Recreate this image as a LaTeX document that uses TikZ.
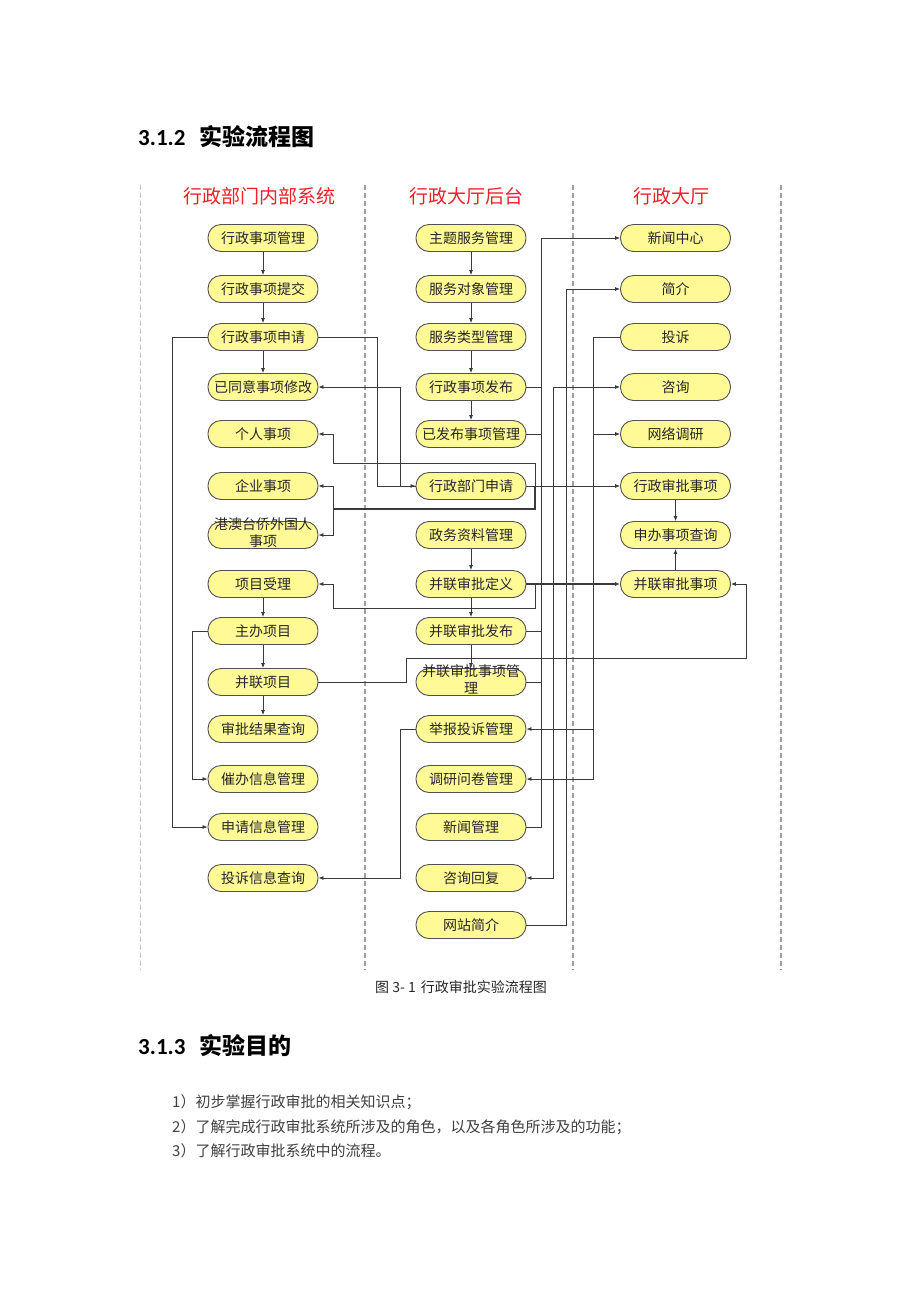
\documentclass[tikz,border=0pt]{standalone}
\usepackage{fontspec}
\setmainfont{Carlito}
\newfontfamily\cjk{Noto Sans CJK SC}
\usetikzlibrary{arrows.meta}
\definecolor{boxfill}{HTML}{FFFA96}
\definecolor{boxline}{HTML}{505050}
\definecolor{lin}{HTML}{3A3A3A}
\definecolor{lanered}{HTML}{F0202A}
\tikzset{
  box/.style={draw=boxline, fill=boxfill, line width=0.9pt, rounded corners=13pt,
    minimum width=110pt, minimum height=27pt, inner sep=0pt,
    font=\cjk\fontsize{14}{15}\selectfont, text=black!85},
  conn/.style={draw=lin, line width=0.8pt, -{Latex[length=5pt,width=4pt]}},
  conn2/.style={draw=lin, line width=0.8pt, {Latex[length=5pt,width=4pt]}-{Latex[length=5pt,width=4pt]}},
  ln/.style={draw=lin, line width=0.8pt},
  lanedash/.style={draw=gray!75, line width=1.2pt, dash pattern=on 5pt off 3pt},
  lanetitle/.style={font=\cjk\fontsize{19}{19}\selectfont, text=lanered},
}
\newcommand{\twoline}[2]{\raisebox{-6pt}{\smash{\begin{tabular}[c]{@{}c@{}}#1\\[1pt]#2\end{tabular}}}}
\begin{document}
\begin{tikzpicture}[x=1pt,y=-1pt]
\useasboundingbox (0,0) rectangle (920,1302);
\fill[white] (0,0) rectangle (920,1302);

% headings
\node[anchor=base west, inner sep=0pt] (h1) at (138,145) {\fontsize{23}{23}\selectfont\bfseries 3.1.2\hspace{14pt}{\cjk 实验流程图}};

% lanes
\draw[lanedash, line width=0.7pt, draw=gray!50] (140,185) -- (140,970);
\draw[lanedash] (365,185) -- (365,970);
\draw[lanedash] (573,185) -- (573,970);
\draw[lanedash] (781,185) -- (781,970);

\node[lanetitle] (t1) at (259,196) {行政部门内部系统};
\node[lanetitle] (t2) at (466,196) {行政大厅后台};
\node[lanetitle] (t3) at (671,196) {行政大厅};

% column 1
\node[box] (a1) at (263,238) {行政事项管理};
\node[box] (a2) at (263,289) {行政事项提交};
\node[box] (a3) at (263,337) {行政事项申请};
\node[box] (a4) at (263,387) {已同意事项修改};
\node[box] (a5) at (263,434) {个人事项};
\node[box] (a6) at (263,486) {企业事项};
\node[box] (a7) at (263,535) {\twoline{港澳台侨外国人}{事项}};
\node[box] (a8) at (263,584) {项目受理};
\node[box] (a9) at (263,631) {主办项目};
\node[box] (a10) at (263,682) {并联项目};
\node[box] (a11) at (263,729) {审批结果查询};
\node[box] (a12) at (263,779) {催办信息管理};
\node[box] (a13) at (263,827) {申请信息管理};
\node[box] (a14) at (263,878) {投诉信息查询};

% column 2
\node[box] (b1) at (471,238) {主题服务管理};
\node[box] (b2) at (471,289) {服务对象管理};
\node[box] (b3) at (471,337) {服务类型管理};
\node[box] (b4) at (471,387) {行政事项发布};
\node[box] (b5) at (471,434) {已发布事项管理};
\node[box] (b6) at (471,486) {行政部门申请};
\node[box] (b7) at (471,535) {政务资料管理};
\node[box] (b8) at (471,584) {并联审批定义};
\node[box] (b9) at (471,631) {并联审批发布};
\node[box] (b10) at (471,682) {\twoline{并联审批事项管}{理}};
\node[box] (b11) at (471,729) {举报投诉管理};
\node[box] (b12) at (471,779) {调研问卷管理};
\node[box] (b13) at (471,827) {新闻管理};
\node[box] (b14) at (471,878) {咨询回复};
\node[box] (b15) at (471,925) {网站简介};

% column 3
\node[box] (c1) at (675.5,238) {新闻中心};
\node[box] (c2) at (675.5,289) {简介};
\node[box] (c3) at (675.5,337) {投诉};
\node[box] (c4) at (675.5,387) {咨询};
\node[box] (c5) at (675.5,434) {网络调研};
\node[box] (c6) at (675.5,486) {行政审批事项};
\node[box] (c7) at (675.5,535) {申办事项查询};
\node[box] (c8) at (675.5,584) {并联审批事项};

% vertical arrows in columns
\draw[conn] (a1.south) -- (a2.north);
\draw[conn] (a2.south) -- (a3.north);
\draw[conn] (a3.south) -- (a4.north);
\draw[conn] (a8.south) -- (a9.north);
\draw[conn] (a9.south) -- (a10.north);
\draw[conn] (a10.south) -- (a11.north);
\draw[conn] (b1.south) -- (b2.north);
\draw[conn] (b2.south) -- (b3.north);
\draw[conn] (b3.south) -- (b4.north);
\draw[conn] (b4.south) -- (b5.north);
\draw[conn] (b7.south) -- (b8.north);
\draw[conn] (b8.south) -- (b9.north);
\draw[conn] (b9.south) -- (b10.north);
\draw[conn] (c6.south) -- (c7.north);
\draw[conn] (c8.north) -- (c7.south);

% left loops
\draw[conn] (a3.west) -- ++(-35,0) |- (a13.west);
\draw[conn] (a9.west) -- ++(-15,0) |- (a12.west);

% column 1 <-> column 2
\draw[conn] (a3.east) -- ++(59,0) |- (b6.west);
\draw[conn] (b6.west) -- ++(-15,0) |- (a4.east);
\coordinate (j1) at (535,486);
\coordinate (k1) at (333,509);
\coordinate (j2) at (535,584);
\draw[conn] (b6.east) -- (c6.west);
\draw[conn] (j1) |- (333,463) |- (a5.east);
\draw[ln, line width=1.1pt] (j1) |- (k1);
\draw[conn] (k1) |- (a6.east);
\draw[conn] (k1) |- (a7.east);
\draw[conn, line width=1.3pt] (b8.east) -- (c8.west);
\draw[conn] (j2) |- (333,608) |- (a8.east);
\draw[conn] (a10.east) -- (406,682) |- (746,658) |- (c8.east);
\draw[conn] (b11.west) -- ++(-15,0) |- (a14.east);

% buses between column 2 and column 3
\coordinate (bus1) at (541,0);
\draw[conn] (b13.east) -| (541,238) -- (c1.west);
\draw[ln] (b4.east) -- (b4.east -| bus1);
\draw[ln] (b5.east) -- (b5.east -| bus1);
\draw[ln] (b9.east) -- (b9.east -| bus1);
\draw[ln] (b10.east) -- (b10.east -| bus1);
\draw[conn2] (c4.west) -| (553,878) -- (b14.east);
\draw[conn] (b15.east) -| (566,289) -- (c2.west);
\draw[conn] (c3.west) -| (593,779) -- (b12.east);
\coordinate (q1) at (593,729);
\coordinate (q2) at (593,434);
\draw[conn] (q1) -- (b11.east);
\draw[conn] (q2) -- (c5.west);

% caption and text below
\node[font=\cjk\fontsize{14}{14}\selectfont, text=black!85] (cap) at (461,987) {图 3- 1\hspace{5pt}行政审批实验流程图};
\node[anchor=base west, inner sep=0pt] (h2) at (138,1054) {\fontsize{23}{23}\selectfont\bfseries 3.1.3\hspace{14pt}{\cjk 实验目的}};
\node[anchor=base west, inner sep=0pt, font=\cjk\fontsize{15}{15}\selectfont, text=black!75] (l1) at (172,1107) {1）初步掌握行政审批的相关知识点；};
\node[anchor=base west, inner sep=0pt, font=\cjk\fontsize{15}{15}\selectfont, text=black!75] (l2) at (172,1132) {2）了解完成行政审批系统所涉及的角色，以及各角色所涉及的功能；};
\node[anchor=base west, inner sep=0pt, font=\cjk\fontsize{15}{15}\selectfont, text=black!75] (l3) at (172,1156) {3）了解行政审批系统中的流程。};
\end{tikzpicture}
\end{document}
